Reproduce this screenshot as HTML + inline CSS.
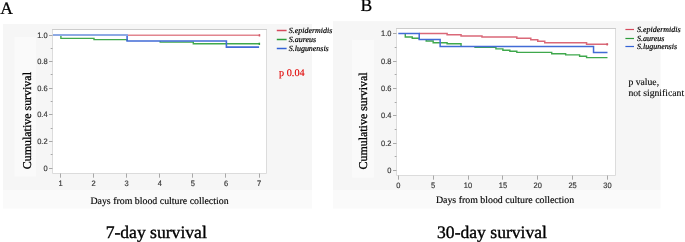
<!DOCTYPE html>
<html><head><meta charset="utf-8"><style>
html,body{margin:0;padding:0;background:#fff;width:685px;height:242px;overflow:hidden}
svg{display:block;will-change:transform}
text{font-family:"Liberation Serif",serif;fill:#000;text-rendering:geometricPrecision}
.tl{font-family:"Liberation Sans",sans-serif;font-size:7.5px;fill:#333;stroke:#333;stroke-width:0.15px}
.yt{font-size:11.95px;stroke:#000;stroke-width:0.3px}
.xt{font-size:9.9px;stroke:#000;stroke-width:0.15px}
.lg{font-size:7.95px;font-style:italic;stroke:#000;stroke-width:0.2px}
.pl{font-size:17.6px;stroke:#000;stroke-width:0.22px}
.pv{font-size:10.2px;fill:#e00000;stroke:#e00000;stroke-width:0.12px}
.ns{font-size:9.7px;stroke:#000;stroke-width:0.1px}
.cap{font-size:17.6px;stroke:#000;stroke-width:0.38px}
</style></head><body>
<svg width="685" height="242" viewBox="0 0 685 242">
<rect x="3" y="24" width="309" height="166" fill="#f6f6f6"/>
<rect x="3" y="190" width="309" height="18.5" fill="#fafafa"/>
<rect x="14.5" y="37" width="21.700000000000003" height="139.5" fill="#fafafa"/>
<rect x="52.5" y="29.5" width="214.0" height="144.0" fill="#fff"/>
<path d="M52.5,29.5 V173.5 H266.5 V29.5" fill="none" stroke="#dcdcdc" stroke-width="1"/>
<path d="M52.0,29.5 H267.0" fill="none" stroke="#cccccc" stroke-width="1"/>
<line x1="49.0" y1="168.5" x2="52.5" y2="168.5" stroke="#a8a8a8" stroke-width="1"/>
<text transform="translate(47.6,170.50) scale(1,1.05)" text-anchor="end" class="tl">0</text>
<line x1="50.7" y1="154.5" x2="52.5" y2="154.5" stroke="#a8a8a8" stroke-width="1"/>
<line x1="49.0" y1="141.5" x2="52.5" y2="141.5" stroke="#a8a8a8" stroke-width="1"/>
<text transform="translate(47.6,143.90) scale(1,1.05)" text-anchor="end" class="tl">0.2</text>
<line x1="50.7" y1="128.5" x2="52.5" y2="128.5" stroke="#a8a8a8" stroke-width="1"/>
<line x1="49.0" y1="114.5" x2="52.5" y2="114.5" stroke="#a8a8a8" stroke-width="1"/>
<text transform="translate(47.6,117.30) scale(1,1.05)" text-anchor="end" class="tl">0.4</text>
<line x1="50.7" y1="101.5" x2="52.5" y2="101.5" stroke="#a8a8a8" stroke-width="1"/>
<line x1="49.0" y1="88.5" x2="52.5" y2="88.5" stroke="#a8a8a8" stroke-width="1"/>
<text transform="translate(47.6,90.70) scale(1,1.05)" text-anchor="end" class="tl">0.6</text>
<line x1="50.7" y1="74.5" x2="52.5" y2="74.5" stroke="#a8a8a8" stroke-width="1"/>
<line x1="49.0" y1="61.5" x2="52.5" y2="61.5" stroke="#a8a8a8" stroke-width="1"/>
<text transform="translate(47.6,64.10) scale(1,1.05)" text-anchor="end" class="tl">0.8</text>
<line x1="50.7" y1="48.5" x2="52.5" y2="48.5" stroke="#a8a8a8" stroke-width="1"/>
<line x1="49.0" y1="35.5" x2="52.5" y2="35.5" stroke="#a8a8a8" stroke-width="1"/>
<text transform="translate(47.6,37.50) scale(1,1.05)" text-anchor="end" class="tl">1.0</text>
<line x1="60.5" y1="173.5" x2="60.5" y2="177.7" stroke="#a8a8a8" stroke-width="1"/>
<text transform="translate(60.50,185.8) scale(1,1.05)" text-anchor="middle" class="tl">1</text>
<line x1="93.5" y1="173.5" x2="93.5" y2="177.7" stroke="#a8a8a8" stroke-width="1"/>
<text transform="translate(93.60,185.8) scale(1,1.05)" text-anchor="middle" class="tl">2</text>
<line x1="126.5" y1="173.5" x2="126.5" y2="177.7" stroke="#a8a8a8" stroke-width="1"/>
<text transform="translate(126.70,185.8) scale(1,1.05)" text-anchor="middle" class="tl">3</text>
<line x1="159.5" y1="173.5" x2="159.5" y2="177.7" stroke="#a8a8a8" stroke-width="1"/>
<text transform="translate(159.80,185.8) scale(1,1.05)" text-anchor="middle" class="tl">4</text>
<line x1="192.5" y1="173.5" x2="192.5" y2="177.7" stroke="#a8a8a8" stroke-width="1"/>
<text transform="translate(192.90,185.8) scale(1,1.05)" text-anchor="middle" class="tl">5</text>
<line x1="225.5" y1="173.5" x2="225.5" y2="177.7" stroke="#a8a8a8" stroke-width="1"/>
<text transform="translate(226.00,185.8) scale(1,1.05)" text-anchor="middle" class="tl">6</text>
<line x1="259.5" y1="173.5" x2="259.5" y2="177.7" stroke="#a8a8a8" stroke-width="1"/>
<text transform="translate(259.10,185.8) scale(1,1.05)" text-anchor="middle" class="tl">7</text>
<text transform="translate(31.1,169.2) rotate(-90)" class="yt">Cumulative survival</text>
<text x="159.5" y="203.6" text-anchor="middle" class="xt">Days from blood culture collection</text>
<path d="M60.90,35.00 L60.90,38.40 L94.00,38.40 L94.00,39.60 L127.10,39.60 L127.10,41.00 M160.20,41.00 L160.20,42.10 L193.30,42.10 L193.30,43.80 L260.00,43.80" fill="none" stroke="#3fa84c" stroke-width="1.4" stroke-linejoin="miter" stroke-linecap="butt"/>
<path d="M127.10,35.25 L127.10,35.30 L260.10,35.30" fill="none" stroke="#e2868f" stroke-width="1.6" stroke-linejoin="miter" stroke-linecap="butt"/>
<path d="M127.10,35.00 L127.10,35.00 L127.10,41.00 L226.40,41.00 L226.40,47.15 L259.10,47.15" fill="none" stroke="#426bd6" stroke-width="1.6" stroke-linejoin="miter" stroke-linecap="butt"/>
<path d="M53.00,35.00 L127.90,35.00" fill="none" stroke="#8eaae4" stroke-width="1.8" stroke-linejoin="miter" stroke-linecap="butt"/>
<line x1="276.8" y1="30.5" x2="286.6" y2="30.5" stroke="#d64a5c" stroke-width="1.5"/>
<text x="288.8" y="33.1" class="lg">S.epidermidis</text>
<line x1="276.8" y1="39.5" x2="286.6" y2="39.5" stroke="#2c9c3a" stroke-width="1.5"/>
<text x="288.8" y="42.0" class="lg">S.aureus</text>
<line x1="276.8" y1="48.5" x2="286.6" y2="48.5" stroke="#3262d6" stroke-width="1.5"/>
<text x="288.8" y="50.9" class="lg">S.lugunensis</text>
<rect x="333" y="21.2" width="327.5" height="168.8" fill="#f6f6f6"/>
<rect x="333" y="190" width="327.5" height="18.5" fill="#fafafa"/>
<rect x="352.2" y="39.8" width="21.600000000000023" height="137.8" fill="#fafafa"/>
<rect x="396.5" y="28.5" width="219.0" height="147.0" fill="#fff"/>
<path d="M396.5,28.5 V175.5 H615.5 V28.5" fill="none" stroke="#dcdcdc" stroke-width="1"/>
<path d="M396.0,28.5 H616.0" fill="none" stroke="#cccccc" stroke-width="1"/>
<line x1="393.0" y1="170.5" x2="396.5" y2="170.5" stroke="#a8a8a8" stroke-width="1"/>
<text transform="translate(391.4,172.90) scale(1,1.05)" text-anchor="end" class="tl">0</text>
<line x1="394.7" y1="156.5" x2="396.5" y2="156.5" stroke="#a8a8a8" stroke-width="1"/>
<line x1="393.0" y1="143.5" x2="396.5" y2="143.5" stroke="#a8a8a8" stroke-width="1"/>
<text transform="translate(391.4,145.56) scale(1,1.05)" text-anchor="end" class="tl">0.2</text>
<line x1="394.7" y1="129.5" x2="396.5" y2="129.5" stroke="#a8a8a8" stroke-width="1"/>
<line x1="393.0" y1="115.5" x2="396.5" y2="115.5" stroke="#a8a8a8" stroke-width="1"/>
<text transform="translate(391.4,118.22) scale(1,1.05)" text-anchor="end" class="tl">0.4</text>
<line x1="394.7" y1="102.5" x2="396.5" y2="102.5" stroke="#a8a8a8" stroke-width="1"/>
<line x1="393.0" y1="88.5" x2="396.5" y2="88.5" stroke="#a8a8a8" stroke-width="1"/>
<text transform="translate(391.4,90.88) scale(1,1.05)" text-anchor="end" class="tl">0.6</text>
<line x1="394.7" y1="74.5" x2="396.5" y2="74.5" stroke="#a8a8a8" stroke-width="1"/>
<line x1="393.0" y1="61.5" x2="396.5" y2="61.5" stroke="#a8a8a8" stroke-width="1"/>
<text transform="translate(391.4,63.54) scale(1,1.05)" text-anchor="end" class="tl">0.8</text>
<line x1="394.7" y1="47.5" x2="396.5" y2="47.5" stroke="#a8a8a8" stroke-width="1"/>
<line x1="393.0" y1="33.5" x2="396.5" y2="33.5" stroke="#a8a8a8" stroke-width="1"/>
<text transform="translate(391.4,36.20) scale(1,1.05)" text-anchor="end" class="tl">1.0</text>
<line x1="398.5" y1="175.5" x2="398.5" y2="179.7" stroke="#a8a8a8" stroke-width="1"/>
<text transform="translate(398.30,187.9) scale(1,1.05)" text-anchor="middle" class="tl">0</text>
<line x1="433.5" y1="175.5" x2="433.5" y2="179.7" stroke="#a8a8a8" stroke-width="1"/>
<text transform="translate(433.17,187.9) scale(1,1.05)" text-anchor="middle" class="tl">5</text>
<line x1="468.5" y1="175.5" x2="468.5" y2="179.7" stroke="#a8a8a8" stroke-width="1"/>
<text transform="translate(468.03,187.9) scale(1,1.05)" text-anchor="middle" class="tl">10</text>
<line x1="502.5" y1="175.5" x2="502.5" y2="179.7" stroke="#a8a8a8" stroke-width="1"/>
<text transform="translate(502.89,187.9) scale(1,1.05)" text-anchor="middle" class="tl">15</text>
<line x1="537.5" y1="175.5" x2="537.5" y2="179.7" stroke="#a8a8a8" stroke-width="1"/>
<text transform="translate(537.76,187.9) scale(1,1.05)" text-anchor="middle" class="tl">20</text>
<line x1="572.5" y1="175.5" x2="572.5" y2="179.7" stroke="#a8a8a8" stroke-width="1"/>
<text transform="translate(572.62,187.9) scale(1,1.05)" text-anchor="middle" class="tl">25</text>
<line x1="607.5" y1="175.5" x2="607.5" y2="179.7" stroke="#a8a8a8" stroke-width="1"/>
<text transform="translate(607.49,187.9) scale(1,1.05)" text-anchor="middle" class="tl">30</text>
<text transform="translate(366.9,169.5) rotate(-90)" class="yt">Cumulative survival</text>
<text x="505.0" y="202.9" text-anchor="middle" class="xt">Days from blood culture collection</text>
<path d="M419.22,33.60 L419.22,33.60 L447.11,33.60 L447.11,34.70 L461.06,34.70 L461.06,35.90 L481.98,35.90 L481.98,37.00 L516.84,37.00 L516.84,38.30 L530.79,38.30 L530.79,39.80 L537.76,39.80 L537.76,41.30 L544.73,41.30 L544.73,42.80 L586.57,42.80 L586.57,44.30 L608.19,44.30" fill="none" stroke="#da6878" stroke-width="1.5" stroke-linejoin="miter" stroke-linecap="butt"/>
<path d="M405.27,33.60 L405.27,37.00 L412.25,37.00 L412.25,38.20 L419.22,38.20 L419.22,39.40 M426.19,39.40 L426.19,41.00 L433.17,41.00 L433.17,42.80 L447.11,42.80 L447.11,43.80 L461.06,43.80 L461.06,46.00 M475.00,46.00 L475.00,47.40 L495.92,47.40 L495.92,48.90 L502.89,48.90 L502.89,50.30 L509.87,50.30 L509.87,51.30 L516.84,51.30 L516.84,52.40 L551.71,52.40 L551.71,53.70 L565.65,53.70 L565.65,54.90 L579.60,54.90 L579.60,56.20 L586.57,56.20 L586.57,57.65 L607.49,57.65" fill="none" stroke="#3fa84c" stroke-width="1.4" stroke-linejoin="miter" stroke-linecap="butt"/>
<path d="M398.30,33.60 L419.22,33.60 L419.22,39.40 L440.14,39.40 L440.14,46.45 L593.54,46.45 L593.54,52.60 L607.49,52.60" fill="none" stroke="#426bd6" stroke-width="1.5" stroke-linejoin="miter" stroke-linecap="butt"/>
<line x1="625.4" y1="29.5" x2="634.0" y2="29.5" stroke="#d64a5c" stroke-width="1.2"/>
<text x="637.1" y="31.5" class="lg">S.epidermidis</text>
<line x1="625.4" y1="38.5" x2="634.0" y2="38.5" stroke="#2c9c3a" stroke-width="1.2"/>
<text x="637.1" y="40.5" class="lg">S.aureus</text>
<line x1="625.4" y1="46.5" x2="634.0" y2="46.5" stroke="#3262d6" stroke-width="1.2"/>
<text x="637.1" y="49.3" class="lg">S.lugunensis</text>
<rect x="258.7" y="34.2" width="1.5" height="2.3" fill="#cf5a68"/>
<rect x="258.6" y="42.7" width="1.5" height="2.2" fill="#2f9a3d"/>
<rect x="606.4" y="43.2" width="1.5" height="2.3" fill="#cf5a68"/>
<text transform="translate(0.3,13.5)" class="pl">A</text>
<text transform="translate(360.4,11.3)" class="pl">B</text>
<text x="279.1" y="75.75" class="pv">p 0.04</text>
<text x="628.4" y="84.9" class="ns">p value,</text>
<text x="628.4" y="95.8" class="ns">not significant</text>
<text transform="translate(156.2,237.9)" text-anchor="middle" class="cap">7-day survival</text>
<text transform="translate(492.0,237.9)" text-anchor="middle" class="cap">30-day survival</text>
</svg>
</body></html>
